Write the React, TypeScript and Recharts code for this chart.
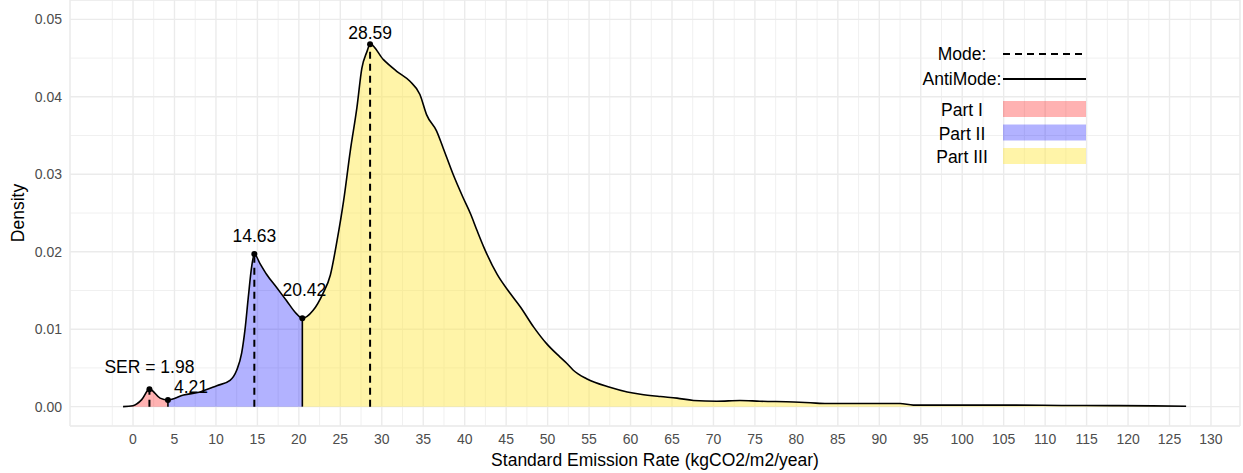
import React from 'react';
import {
  ComposedChart,
  Area,
  Line,
  XAxis,
  YAxis,
  CartesianGrid,
  ReferenceLine,
  ReferenceDot,
  Legend,
} from 'recharts';

// density curve
const xs = [
  -1.2, 0, 1.05, 1.98, 3.26, 4.21, 6.1, 8.1, 10.1, 11.7, 12.5, 13.1, 13.5, 13.9, 14.3, 14.63,
  15.3, 16.1, 17.3, 18.5, 19.7, 20.42, 21.7, 22.9, 23.8, 24.6, 25.4, 26.2, 27.0, 27.6, 28.2,
  28.59, 30.2, 31.8, 33.4, 34.6, 35.4, 36.6, 37.4, 38.6, 39.8, 40.7, 41.5, 42.3, 43.9, 45.5,
  46.7, 48.3, 49.9, 51.5, 52.3, 53.1, 54.7, 57.5, 59.6, 61.2, 63.6, 65.6, 67.6, 70.4, 73.2,
  75.6, 79.7, 81.7, 83.7, 87.7, 90.1, 92.5, 94.1, 100, 106.2, 112, 118.2, 123, 127,
];
const density = [
  0, 0.00012, 0.0009, 0.00226, 0.0011, 0.00086, 0.0015, 0.0019, 0.0027, 0.0034, 0.0047, 0.0069,
  0.0099, 0.0141, 0.018, 0.0197, 0.0185, 0.0171, 0.0154, 0.0137, 0.012, 0.0114, 0.0124, 0.0146,
  0.017, 0.0214, 0.0266, 0.033, 0.0386, 0.0437, 0.0458, 0.0468, 0.0448, 0.0433, 0.042, 0.0403,
  0.0377, 0.0356, 0.0334, 0.03, 0.027, 0.0249, 0.0227, 0.0206, 0.0171, 0.0146, 0.0129, 0.0103,
  0.0081, 0.0064, 0.0056, 0.0047, 0.0036, 0.0025, 0.0019, 0.0016, 0.0013, 0.0011, 0.0008,
  0.0007, 0.0008, 0.0007, 0.0006, 0.0005, 0.0004, 0.0004, 0.0004, 0.0004, 0.0002, 0.0002,
  0.0002, 0.00015, 0.00013, 0.0001, 0.00005,
];

// modes / antimodes
const markX = [1.98, 4.21, 14.63, 20.42, 28.59];
const markY = [0.00226, 0.00086, 0.0197, 0.0114, 0.0468];
const markText = ['SER = 1.98', '4.21', '14.63', '20.42', '28.59'];
const markKind = ['Mode', 'AntiMode', 'Mode', 'AntiMode', 'Mode'];

const partNames = ['Part I', 'Part II', 'Part III'];
const partCuts = [4.21, 20.42];

const xTicks = Array.from({ length: 27 }, (_, i) => i * 5);
const xMinor = [-5, ...Array.from({ length: 54 }, (_, i) => -2.5 + i * 2.5)].filter((v) => v % 5 !== 0 || v === -5);
const yTicks = [0, 0.01, 0.02, 0.03, 0.04, 0.05];
const yMinor = [0.005, 0.015, 0.025, 0.035, 0.045];

const PART_COLORS = ['#ff0000', '#0000ff', '#ffe84a'];
const PART_OPACITY = [0.3, 0.3, 0.48];
const FONT = '"Liberation Sans", Arial, Helvetica, sans-serif';
const DASH = '7 5';

// label offsets relative to the point (px)
const labelNudge = [
  { dx: 0, dy: -22, anchor: 'middle' },
  { dx: 6, dy: -13, anchor: 'start' },
  { dx: 0, dy: -18, anchor: 'middle' },
  { dx: 2, dy: -28, anchor: 'middle' },
  { dx: 0, dy: -11, anchor: 'middle' },
];

const data = xs.map((x, i) => {
  const d = density[i];
  return {
    x,
    all: d,
    p1: x <= partCuts[0] ? d : null,
    p2: x >= partCuts[0] && x <= partCuts[1] ? d : null,
    p3: x >= partCuts[1] ? d : null,
  };
});

const LegendBox = () => (
  <svg width={200} height={145} style={{ fontFamily: FONT, display: 'block' }}>
    <text x={62} y={24} textAnchor="middle" dominantBaseline="central" fontSize={17.5}>Mode:</text>
    <line x1={103} x2={184} y1={24} y2={24} stroke="#000" strokeWidth={2} strokeDasharray={DASH} />
    <text x={62} y={49} textAnchor="middle" dominantBaseline="central" fontSize={17.5}>AntiMode:</text>
    <line x1={103} x2={186} y1={49} y2={49} stroke="#000" strokeWidth={2} />
    {partNames.map((name, i) => (
      <g key={name}>
        <text x={62} y={80 + i * 23.5} textAnchor="middle" dominantBaseline="central" fontSize={17.5}>
          {name}
        </text>
        <rect x={103} y={71 + i * 23.5} width={83} height={16} fill={PART_COLORS[i]} fillOpacity={PART_OPACITY[i]} />
      </g>
    ))}
  </svg>
);

export default function App() {
  return (
    <div style={{ position: 'absolute', left: 0, top: 0, width: 1243, height: 473, background: '#fff' }}>
      <ComposedChart
        width={1243}
        height={473}
        data={data}
        margin={{ top: 0, right: 3, bottom: 0, left: 0 }}
        style={{ fontFamily: FONT }}
      >
        <XAxis xAxisId="minor" type="number" dataKey="x" domain={[-7.6, 133.5]} ticks={xMinor} allowDataOverflow hide />
        <YAxis yAxisId="minor" type="number" domain={[-0.0025, 0.0525]} ticks={yMinor} allowDataOverflow hide />
        <CartesianGrid xAxisId="minor" yAxisId="minor" stroke="#f0f0f0" strokeWidth={1} />
        <CartesianGrid stroke="#ebebeb" strokeWidth={1.4} />
        <XAxis
          type="number"
          dataKey="x"
          domain={[-7.6, 133.5]}
          ticks={xTicks}
          allowDataOverflow
          interval={0}
          height={47}
          axisLine={false}
          tickLine={false}
          tickSize={0}
          tickMargin={8}
          tick={{ fill: '#4d4d4d', fontSize: 14 }}
          label={(p: any) => (
            <text
              x={p.viewBox.x + p.viewBox.width / 2}
              y={p.viewBox.y + 34}
              textAnchor="middle"
              dominantBaseline="central"
              fontSize={17.5}
              fill="#000"
            >
              Standard Emission Rate (kgCO2/m2/year)
            </text>
          )}
        />
        <YAxis
          type="number"
          domain={[-0.0025, 0.0525]}
          ticks={yTicks}
          allowDataOverflow
          width={70}
          axisLine={false}
          tickLine={false}
          tickSize={0}
          tickMargin={8}
          tick={{ fill: '#4d4d4d', fontSize: 14 }}
          tickFormatter={(v: number) => v.toFixed(2)}
          label={(p: any) => {
            const cy = p.viewBox.y + p.viewBox.height / 2;
            return (
              <text
                x={18}
                y={cy}
                transform={`rotate(-90, 18, ${cy})`}
                textAnchor="middle"
                dominantBaseline="central"
                fontSize={17.5}
                fill="#000"
              >
                Density
              </text>
            );
          }}
        />
        {['p1', 'p2', 'p3'].map((k, i) => (
          <Area
            key={k}
            type="monotone"
            dataKey={k}
            baseValue={0}
            stroke="none"
            fill={PART_COLORS[i]}
            fillOpacity={PART_OPACITY[i]}
            connectNulls={false}
            isAnimationActive={false}
            activeDot={false}
          />
        ))}
        <Line
          type="monotone"
          dataKey="all"
          stroke="#000"
          strokeWidth={1.6}
          dot={false}
          activeDot={false}
          isAnimationActive={false}
        />
        {markX.map((x, i) => (
          <ReferenceLine
            key={`l${i}`}
            segment={[{ x, y: 0 }, { x, y: markY[i] }]}
            stroke="#000"
            strokeWidth={markKind[i] === 'Mode' ? 2 : 1.6}
            strokeDasharray={markKind[i] === 'Mode' ? DASH : undefined}
            ifOverflow="visible"
          />
        ))}
        {markX.map((x, i) => (
          <ReferenceDot
            key={`d${i}`}
            x={x}
            y={markY[i]}
            r={3}
            fill="#000"
            stroke="none"
            ifOverflow="visible"
            label={(p: any) => {
              const vb = p.viewBox;
              const cx = vb.x + vb.width / 2;
              const cy = vb.y + vb.height / 2;
              const n = labelNudge[i];
              return (
                <text
                  x={cx + n.dx}
                  y={cy + n.dy}
                  textAnchor={n.anchor}
                  dominantBaseline="central"
                  fontSize={17.5}
                  fill="#000"
                >
                  {markText[i]}
                </text>
              );
            }}
          />
        ))}
        <Legend
          layout="vertical"
          align="center"
          verticalAlign="middle"
          content={() => <LegendBox />}
          wrapperStyle={{ position: 'absolute', left: 900, top: 30, width: 200, height: 145, bottom: 'auto', right: 'auto' }}
        />
      </ComposedChart>
    </div>
  );
}
